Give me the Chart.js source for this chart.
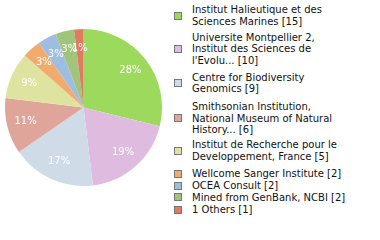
<!DOCTYPE html>
<html>
<head>
<meta charset="utf-8">
<script src="https://cdn.jsdelivr.net/npm/chart.js@4"></script>
<style>
    body { margin: 0; background: #fff; width: 380px; height: 240px; position: relative; overflow: hidden; }
    #pie { position: absolute; left: 0; top: 0; }
    #legend { position: absolute; left: 0; top: 0; font-family: "DejaVu Sans", sans-serif; font-size: 10px; line-height: 11.5px; color: #111; }
    .item { position: absolute; left: 192px; white-space: nowrap; }
    .item .box { position: absolute; left: -18px; width: 6px; height: 6px; border: 1px solid #777; top: 50%; margin-top: -4px; }
</style>
</head>
<body>
<canvas id="pie" width="167" height="215"></canvas>
<div id="legend"></div>
<script>
const labels = [
    "Institut Halieutique et des Sciences Marines",
    "Universite Montpellier 2, Institut des Sciences de l'Evolu...",
    "Centre for Biodiversity Genomics",
    "Smithsonian Institution, National Museum of Natural History...",
    "Institut de Recherche pour le Developpement, France",
    "Wellcome Sanger Institute",
    "OCEA Consult",
    "Mined from GenBank, NCBI",
    "1 Others"
];
// how the labels break in the legend
const legendLines = [
    ["Institut Halieutique et des", "Sciences Marines"],
    ["Universite Montpellier 2,", "Institut des Sciences de", "l'Evolu..."],
    ["Centre for Biodiversity", "Genomics"],
    ["Smithsonian Institution,", "National Museum of Natural", "History..."],
    ["Institut de Recherche pour le", "Developpement, France"],
    ["Wellcome Sanger Institute"],
    ["OCEA Consult"],
    ["Mined from GenBank, NCBI"],
    ["1 Others"]
];
const counts = [15, 10, 9, 6, 5, 2, 2, 2, 1];
const colors = ["#9dd95c", "#dfbcdf", "#cfdbe7", "#dfa59b", "#dfe3a0", "#f1ac6d", "#9ebde1", "#9fc47a", "#df7b62"];

// top of each legend entry's first line (px)
const legendTops = [4, 31.5, 71.5, 101, 139, 168, 180, 191.5, 204];

const total = counts.reduce((a, b) => a + b, 0);

// Legend built by hand so the wrapping matches
const legend = document.getElementById("legend");
counts.forEach((c, i) => {
    const item = document.createElement("div");
    item.className = "item";
    item.style.top = legendTops[i] + "px";
    const lines = legendLines[i].slice();
    lines[lines.length - 1] += " [" + c + "]";
    item.innerHTML = '<span class="box" style="background:' + colors[i] + '"></span>' + lines.join("<br>");
    legend.appendChild(item);
});

// Percent labels inside the slices
const pctLabels = {
    id: "pctLabels",
    afterDatasetsDraw(chart) {
        const ctx = chart.ctx;
        const meta = chart.getDatasetMeta(0);
        ctx.save();
        ctx.fillStyle = "#fff";
        ctx.font = "10px 'DejaVu Sans', sans-serif";
        ctx.textAlign = "center";
        ctx.textBaseline = "middle";
        meta.data.forEach((arc, i) => {
            const mid = (arc.startAngle + arc.endAngle) / 2;
            const r = arc.outerRadius * 0.76;
            const x = arc.x + Math.cos(mid) * r;
            const y = arc.y + Math.sin(mid) * r;
            const pct = Math.floor(counts[i] / total * 100);
            ctx.fillText(pct + "%", x, y);
        });
        ctx.restore();
    }
};

new Chart(document.getElementById("pie"), {
    type: "pie",
    data: {
        labels: labels,
        datasets: [{
            data: counts,
            backgroundColor: colors,
            borderWidth: 0
        }]
    },
    options: {
        responsive: false,
        animation: false,
        layout: { padding: { left: 5, right: 5, top: 29, bottom: 29 } },
        plugins: {
            legend: { display: false },
            tooltip: { enabled: false }
        }
    },
    plugins: [pctLabels]
});
</script>
</body>
</html>
